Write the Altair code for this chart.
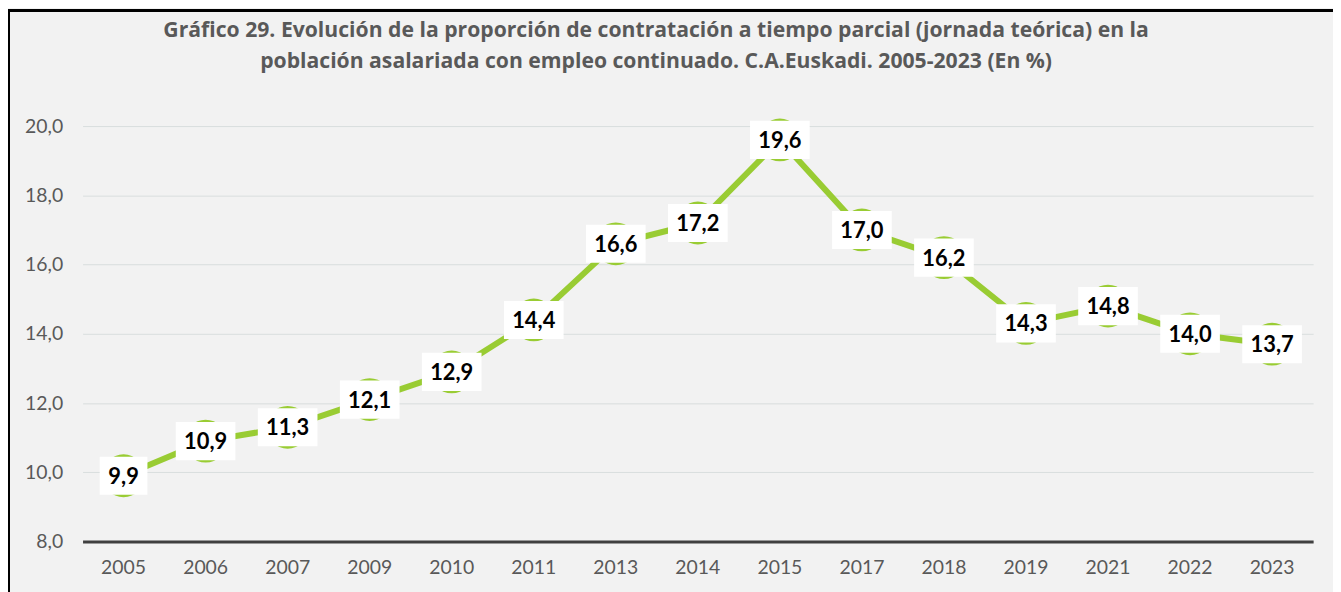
import altair as alt
import pandas as pd

years = ["2005", "2006", "2007", "2009", "2010", "2011", "2013", "2014",
         "2015", "2017", "2018", "2019", "2021", "2022", "2023"]
values = [9.9, 10.9, 11.3, 12.1, 12.9, 14.4, 16.6, 17.2, 19.6, 17.0, 16.2,
          14.3, 14.8, 14.0, 13.7]
y_ticks = [8, 10, 12, 14, 16, 18, 20]
title_lines = [
    "Gráfico 29. Evolución de la proporción de contratación a tiempo parcial (jornada teórica) en la",
    "población asalariada con empleo continuado. C.A.Euskadi. 2005-2023 (En %)",
]

df = pd.DataFrame({"year": years, "v": values})

FONT = "Lato"
GREEN = "#99cc33"
W, H = 1238, 418

x_enc = alt.X("year:N", sort=years, title=None,
              scale=alt.Scale(paddingInner=0, paddingOuter=0),
              axis=alt.Axis(labelFontSize=19.5, labelColor="#595959", labelFont=FONT,
                            ticks=False, labelPadding=17, domainColor="#404040",
                            domainWidth=3, labelAngle=0, grid=False))
y_enc = alt.Y("v:Q", title=None,
              scale=alt.Scale(domain=[8, 20], nice=False, zero=False),
              axis=alt.Axis(values=y_ticks, labelFontSize=19.5, labelColor="#595959",
                            labelFont=FONT, ticks=False, domain=False, labelPadding=20,
                            gridColor="#d9dede", gridWidth=1,
                            labelExpr="replace(format(datum.value, '.1f'), '.', ',')"))

base = alt.Chart(df).transform_calculate(
    lbl="replace(format(datum.v, '.1f'), '.', ',')",
    lo="datum.v - 0.55",
    hi="datum.v + 0.55",
)

border = alt.Chart(df).mark_rect(fill=None, stroke="black", strokeWidth=2, clip=False).encode(
    x=alt.value(-74), x2=alt.value(W + 40), y=alt.value(-116), y2=alt.value(H + 80)
)

line = base.mark_line(color=GREEN, strokeWidth=6).encode(x=x_enc, y=y_enc)
dots = base.mark_circle(color=GREEN, opacity=1, size=1850).encode(x=x_enc, y=y_enc)

box_wide = base.transform_filter("length(datum.lbl) > 3").mark_bar(
    color="white", width=60).encode(x=x_enc, y=alt.Y("lo:Q"), y2="hi:Q")
box_narrow = base.transform_filter("length(datum.lbl) <= 3").mark_bar(
    color="white", width=48).encode(x=x_enc, y=alt.Y("lo:Q"), y2="hi:Q")

labels = base.mark_text(font=FONT, fontSize=22, fontWeight="bold", color="black",
                        baseline="middle", align="center", dy=1).encode(
    x=x_enc, y=y_enc, text="lbl:N")

chart = alt.layer(border, line, dots, box_wide, box_narrow, labels).properties(
    width=W, height=H,
    padding={"left": 75, "top": 117, "right": 20, "bottom": 49},
    autosize=alt.AutoSizeParams(type="none"),
    background="#f2f2f2",
    title=alt.Title(title_lines, font="Open Sans", fontSize=21.3, fontWeight="bold",
                    color="#595959", anchor="middle", dx=-42, offset=-63,
                    lineHeight=31, frame="group"),
).configure_view(stroke=None)

chart.save("out.html", embed_options={"renderer": "svg", "actions": False})
